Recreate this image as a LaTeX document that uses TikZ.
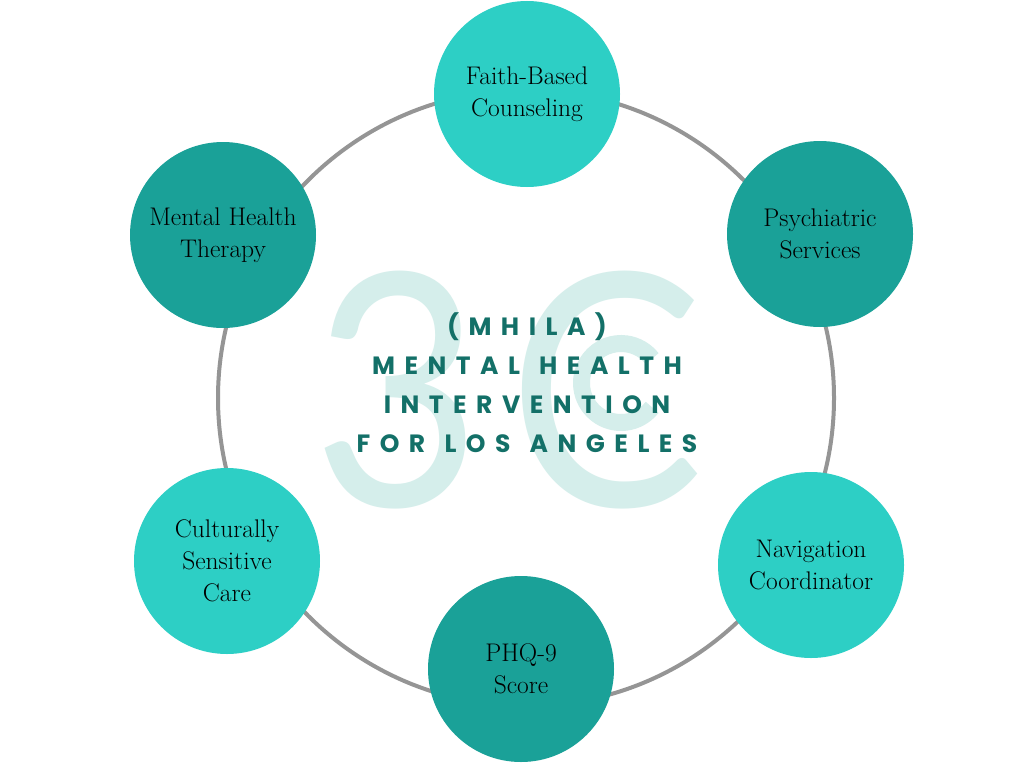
\documentclass[tikz,border=0pt]{standalone}
\usepackage{fontspec}
\newfontfamily\titlefont[LetterSpace=38,WordSpace=1.3]{Poppins}
\newfontfamily\markfont[FakeStretch=0.9]{Lato}
\definecolor{lightteal}{HTML}{2DCFC5}
\definecolor{darkteal}{HTML}{1AA198}
\definecolor{titlecol}{HTML}{137068}
\definecolor{markcol}{HTML}{D5EEEB}
\definecolor{ringcol}{HTML}{959595}
\tikzset{
  bub/.style={circle, minimum size=186pt, inner sep=0pt, align=center,
    font=\fontsize{25.5}{32}\selectfont, text=black},
  bublight/.style={bub, fill=lightteal},
  bubdark/.style={bub, fill=darkteal},
  ring/.style={draw=ringcol, line width=4pt},
  wmark/.style={text=markcol, inner sep=0pt, font=\markfont\fontsize{325}{325}\selectfont},
}
\begin{document}
\begin{tikzpicture}[x=1pt,y=-1pt]
\useasboundingbox (0,0) rectangle (1024,768);
\fill[white] (0,0) rectangle (1024,768);
% ring
\coordinate (c) at (526,398);
\draw[ring] (c) circle[radius=308];
% watermark
\node[wmark] (m3) at (397,390) {3};
\node[wmark] (mC) at (606,390) {C};
\coordinate (mc) at (621,383);
\draw[markcol, line width=17pt] (mc) ++(38:39.5) arc[start angle=38, end angle=322, radius=39.5];
% title
\node[font=\titlefont\bfseries\fontsize{25}{39}\selectfont, text=titlecol, align=center, inner sep=0pt] (title) at (527,383)
  {(MHILA)\\MENTAL HEALTH\\INTERVENTION\\FOR LOS ANGELES};
% bubbles
\node[bublight] (faith) at (527,94) {Faith-Based\\Counseling};
\node[bubdark] (mht) at (223,235) {Mental Health\\Therapy};
\node[bubdark] (psy) at (820,234) {Psychiatric\\Services};
\node[bublight] (csc) at (227,561) {Culturally\\Sensitive\\Care};
\node[bublight] (nav) at (811,565) {Navigation\\Coordinator};
\node[bubdark] (phq) at (521,669) {PHQ-9\\Score};
\end{tikzpicture}
\end{document}
